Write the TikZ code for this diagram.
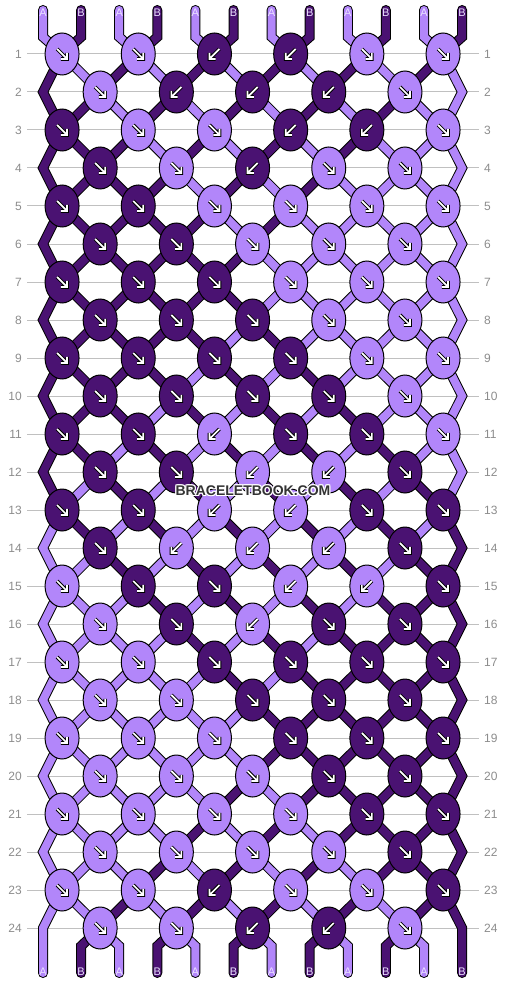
\documentclass[tikz,border=0pt]{standalone}
\usepackage{fontspec}
\setmainfont{Liberation Sans}
\usetikzlibrary{shapes.geometric}
\definecolor{lt}{RGB}{178,134,250}
\definecolor{dk}{RGB}{74,18,114}
\definecolor{rowgray}{RGB}{192,192,192}
\definecolor{numgray}{RGB}{140,140,140}
\definecolor{lbl}{RGB}{235,226,255}
\definecolor{wmgray}{RGB}{51,51,51}
\pgfdeclarelayer{grid}
\pgfdeclarelayer{strings}
\pgfsetlayers{grid,strings,main}
% string colours after each row (0 = A light, 1 = B dark), rows 0..24
\def\SArr{{0,1,0,1,0,1,0,1,0,1,0,1,
1,0,1,0,1,0,1,0,1,0,1,0,
1,1,0,1,0,1,0,1,0,1,0,0,
1,1,1,0,1,0,1,0,1,0,0,0,
1,1,1,1,0,1,0,1,0,0,0,0,
1,1,1,1,1,0,1,0,0,0,0,0,
1,1,1,1,1,1,0,0,0,0,0,0,
1,1,1,1,1,1,0,0,0,0,0,0,
1,1,1,1,1,0,1,0,0,0,0,0,
1,1,1,1,0,1,0,1,0,0,0,0,
1,1,1,0,1,0,1,0,1,0,0,0,
1,1,0,1,0,1,0,1,0,1,0,0,
1,0,1,0,1,0,1,0,1,0,1,0,
0,1,0,1,0,1,0,1,0,1,0,1,
0,0,1,0,1,0,1,0,1,0,1,1,
0,0,0,1,0,1,0,1,0,1,1,1,
0,0,0,0,1,0,1,0,1,1,1,1,
0,0,0,0,0,1,0,1,1,1,1,1,
0,0,0,0,0,0,1,1,1,1,1,1,
0,0,0,0,0,0,1,1,1,1,1,1,
0,0,0,0,0,1,0,1,1,1,1,1,
0,0,0,0,1,0,1,0,1,1,1,1,
0,0,0,1,0,1,0,1,0,1,1,1,
0,0,1,0,1,0,1,0,1,0,1,1,
0,1,0,1,0,1,0,1,0,1,0,1}}
% knot types per row (0 = forward, 1 = backward), 6 slots per row
\def\TArr{{0,0,1,1,0,0,
0,1,1,1,0,0,
0,0,0,1,1,0,
0,0,1,0,0,0,
0,0,0,0,0,0,
0,0,0,0,0,0,
0,0,0,0,0,0,
0,0,0,0,0,0,
0,0,0,0,0,0,
0,0,0,0,0,0,
0,0,1,0,0,0,
0,0,1,1,0,0,
0,0,1,1,0,0,
0,1,1,1,0,0,
0,0,0,1,1,0,
0,0,1,0,0,0,
0,0,0,0,0,0,
0,0,0,0,0,0,
0,0,0,0,0,0,
0,0,0,0,0,0,
0,0,0,0,0,0,
0,0,0,0,0,0,
0,0,1,0,0,0,
0,0,1,1,0,0}}
\tikzset{
  knot/.style={ellipse, draw=black, line width=1pt, minimum width=34pt, minimum height=42pt, inner sep=0pt},
  strand/.style={draw=black, line width=1pt, double distance=8pt, line join=miter, line cap=round},
  arrowback/.style={draw=black, line width=3.6pt, line join=miter, line cap=butt},
  arrowfront/.style={draw=white, line width=1.7pt, line join=miter, line cap=butt},
  rownum/.style={font=\fontsize{12}{12}\selectfont, text=numgray, inner sep=0pt},
  strlbl/.style={font=\fontsize{11}{11}\selectfont, text=lbl, inner sep=0pt},
  wmark/.style={font=\fontsize{14}{14}\selectfont\bfseries, inner sep=0pt},
}
\newcommand{\pickcol}[1]{\ifnum#1=1 \def\kc{dk}\else\def\kc{lt}\fi}
\begin{document}
\begin{tikzpicture}[x=1pt,y=-1pt]
\useasboundingbox (0,0) rectangle (506,984);
% row lines and numbers
\foreach \myr in {1,...,24}{
  \pgfmathsetmacro\myy{54+38*(\myr-1)}
  \begin{pgfonlayer}{grid}
    \draw[rowgray, line width=1pt] (27,\myy) -- (479,\myy);
  \end{pgfonlayer}
  \node[rownum, anchor=east] (nl-\myr) at (22,\myy) {\myr};
  \node[rownum, anchor=west] (nr-\myr) at (484,\myy) {\myr};
}
% knots
\foreach \myr in {1,...,24}{
  \pgfmathtruncatemacro\myodd{mod(\myr,2)}
  \pgfmathtruncatemacro\mynk{\myodd==1 ? 5 : 4}
  \pgfmathsetmacro\myy{54+38*(\myr-1)}
  \foreach \myk in {0,...,\mynk}{
    \pgfmathtruncatemacro\mya{\myodd==1 ? 2*\myk : 2*\myk+1}
    \pgfmathtruncatemacro\myti{6*(\myr-1)+\myk}
    \pgfmathtruncatemacro\myt{\TArr[\myti]}
    \pgfmathtruncatemacro\myci{12*(\myr-1)+\mya+\myt}
    \pgfmathtruncatemacro\myc{\SArr[\myci]}
    \pgfmathsetmacro\myx{43+38.1*(\mya+0.5)}
    \pickcol{\myc}
    \ifnum\myt=0 \def\ks{1}\else\def\ks{-1}\fi
    \node[knot, fill=\kc] (k-\myr-\myk) at (\myx,\myy) {};
    \begin{scope}[shift={(\myx,\myy)}, xscale=\ks]
      \draw[arrowback] (-5,-5) -- (4.6,4.6) (5,-1.2) -- (5,5) -- (-1.2,5);
      \draw[arrowfront] (-5,-5) -- (4.6,4.6) (5,-1.2) -- (5,5) -- (-1.2,5);
    \end{scope}
  }
}
\begin{pgfonlayer}{strings}
% top strings
\foreach \myp in {0,...,11}{
  \pgfmathsetmacro\myx{43+38.1*\myp}
  \pgfmathtruncatemacro\myk{floor(\myp/2)}
  \pgfmathtruncatemacro\myc{\SArr[\myp]}
  \pickcol{\myc}
  \coordinate (t-\myp) at (\myx,10);
  \coordinate (tb-\myp) at (\myx,37);
  \draw[strand, double=\kc] (t-\myp) -- (tb-\myp) -- (k-1-\myk.center);
}
% between rows
\foreach \myr in {1,...,23}{
  \pgfmathtruncatemacro\myodd{mod(\myr,2)}
  \pgfmathtruncatemacro\myrn{\myr+1}
  \foreach \myp in {1,...,10}{
    \pgfmathtruncatemacro\myka{\myodd==1 ? floor(\myp/2) : floor((\myp-1)/2)}
    \pgfmathtruncatemacro\mykb{\myodd==1 ? floor((\myp-1)/2) : floor(\myp/2)}
    \pgfmathtruncatemacro\myci{12*\myr+\myp}
    \pgfmathtruncatemacro\myc{\SArr[\myci]}
    \pickcol{\myc}
    \draw[strand, double=\kc] (k-\myr-\myka.center) -- (k-\myrn-\mykb.center);
  }
}
% edge strings
\foreach \myr in {2,4,...,24}{
  \pgfmathtruncatemacro\myrp{\myr-1}
  \pgfmathtruncatemacro\myrn{\myr+1}
  \pgfmathsetmacro\myy{54+38*(\myr-1)}
  \pgfmathtruncatemacro\myci{12*(\myr-1)}
  \pgfmathtruncatemacro\mycl{\SArr[\myci]}
  \pgfmathtruncatemacro\mycj{12*(\myr-1)+11}
  \pgfmathtruncatemacro\mycr{\SArr[\mycj]}
  \coordinate (eL-\myr) at (43,\myy);
  \coordinate (eR-\myr) at (462.1,\myy);
  \ifnum\myr<24
    \pickcol{\mycl}
    \draw[strand, double=\kc] (k-\myrp-0.center) -- (eL-\myr) -- (k-\myrn-0.center);
    \pickcol{\mycr}
    \draw[strand, double=\kc] (k-\myrp-5.center) -- (eR-\myr) -- (k-\myrn-5.center);
  \else
    \coordinate (b-0) at (43,973);
    \coordinate (b-11) at (462.1,973);
    \pickcol{\mycl}
    \draw[strand, double=\kc] (k-\myrp-0.center) -- (eL-\myr) -- (b-0);
    \pickcol{\mycr}
    \draw[strand, double=\kc] (k-\myrp-5.center) -- (eR-\myr) -- (b-11);
  \fi
}
% bottom strings
\foreach \myp in {1,...,10}{
  \pgfmathsetmacro\myx{43+38.1*\myp}
  \pgfmathtruncatemacro\myk{floor((\myp-1)/2)}
  \pgfmathtruncatemacro\myci{288+\myp}
  \pgfmathtruncatemacro\myc{\SArr[\myci]}
  \pickcol{\myc}
  \coordinate (bb-\myp) at (\myx,946);
  \coordinate (b-\myp) at (\myx,973);
  \draw[strand, double=\kc] (k-24-\myk.center) -- (bb-\myp) -- (b-\myp);
}
\end{pgfonlayer}
% string labels
\foreach \myp in {0,...,11}{
  \pgfmathsetmacro\myx{43+38.1*\myp}
  \pgfmathtruncatemacro\myodd{mod(\myp,2)}
  \ifnum\myodd=0 \def\lt{A}\else\def\lt{B}\fi
  \node[strlbl] (lt-\myp) at (\myx,13) {\lt};
  \node[strlbl] (lb-\myp) at (\myx,972) {\lt};
}
% watermark
\foreach \dx/\dy [count=\hi] in {-1/-1,-1/0,-1/1,0/-1,0/1,1/-1,1/0,1/1}{
  \node[wmark, text=white] (wmh-\hi) at (253+\dx,491+\dy) {BRACELETBOOK.COM};
}
\node[wmark, text=wmgray] (wm) at (253,491) {BRACELETBOOK.COM};
\end{tikzpicture}
\end{document}
